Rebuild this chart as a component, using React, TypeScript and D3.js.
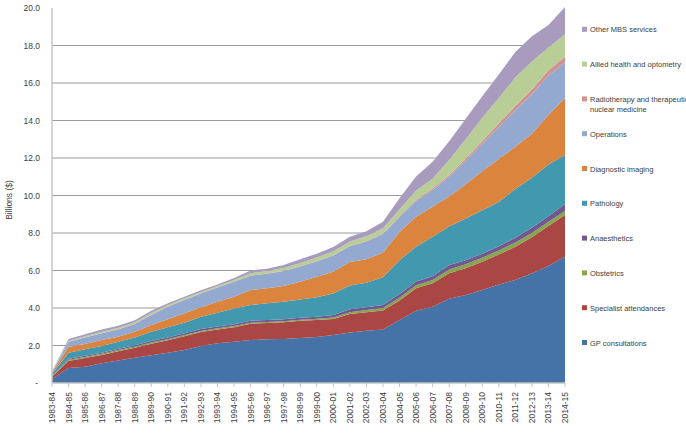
import React from "react";
import * as d3 from "d3";

const years = ["1983-84","1984-85","1985-86","1986-87","1987-88","1988-89","1989-90","1990-91","1991-92","1992-93","1993-94","1994-95","1995-96","1996-97","1997-98","1998-99","1999-00","2000-01","2001-02","2002-03","2003-04","2004-05","2005-06","2006-07","2007-08","2008-09","2009-10","2010-11","2011-12","2012-13","2013-14","2014-15"];

const gpConsultations = [0.22,0.80,0.87,1.05,1.20,1.35,1.48,1.62,1.76,1.97,2.12,2.20,2.29,2.33,2.35,2.40,2.45,2.56,2.70,2.79,2.86,3.36,3.86,4.07,4.50,4.70,4.96,5.25,5.50,5.85,6.24,6.74];
const specialistAttendances = [0.12,0.38,0.46,0.45,0.50,0.53,0.62,0.66,0.74,0.75,0.74,0.78,0.87,0.87,0.89,0.92,0.91,0.86,0.98,0.99,1.01,1.04,1.19,1.25,1.35,1.42,1.51,1.60,1.77,1.92,2.13,2.22];
const obstetrics = [0.02,0.06,0.06,0.06,0.06,0.06,0.06,0.06,0.06,0.06,0.06,0.06,0.06,0.06,0.06,0.06,0.07,0.08,0.10,0.12,0.13,0.15,0.17,0.18,0.20,0.21,0.21,0.22,0.23,0.23,0.23,0.21];
const anaesthetics = [0.02,0.06,0.06,0.06,0.07,0.07,0.08,0.09,0.10,0.10,0.10,0.10,0.10,0.10,0.10,0.10,0.11,0.13,0.15,0.14,0.16,0.20,0.20,0.20,0.25,0.22,0.22,0.23,0.25,0.28,0.30,0.38];
const pathology = [0.10,0.32,0.35,0.35,0.37,0.42,0.50,0.54,0.56,0.66,0.73,0.84,0.84,0.89,0.94,0.98,1.04,1.15,1.27,1.31,1.48,1.80,1.85,2.10,2.05,2.23,2.32,2.35,2.60,2.67,2.75,2.61];
const diagnosticImaging = [0.05,0.32,0.28,0.32,0.27,0.31,0.35,0.43,0.50,0.50,0.59,0.62,0.80,0.80,0.83,0.94,1.09,1.16,1.25,1.25,1.31,1.50,1.60,1.60,1.60,1.82,2.08,2.30,2.25,2.35,2.65,3.04];
const operations = [0.05,0.26,0.35,0.36,0.39,0.41,0.54,0.67,0.71,0.74,0.76,0.80,0.76,0.78,0.81,0.82,0.83,0.86,0.85,0.95,1.00,0.80,0.85,0.90,1.05,1.25,1.45,1.70,1.95,2.10,2.10,1.90];
const radiotherapy = [0.005,0.01,0.01,0.01,0.01,0.01,0.01,0.01,0.01,0.01,0.01,0.01,0.01,0.01,0.01,0.01,0.01,0.02,0.02,0.02,0.03,0.04,0.06,0.07,0.10,0.12,0.15,0.20,0.22,0.25,0.28,0.30];
const alliedHealth = [0.005,0.04,0.06,0.07,0.08,0.08,0.09,0.08,0.08,0.07,0.06,0.09,0.13,0.14,0.15,0.17,0.19,0.21,0.23,0.26,0.27,0.36,0.49,0.53,0.80,1.03,1.25,1.35,1.53,1.50,1.22,1.20];
const otherMbs = [0.03,0.10,0.10,0.12,0.10,0.11,0.12,0.09,0.08,0.09,0.08,0.10,0.14,0.12,0.16,0.20,0.20,0.22,0.25,0.27,0.35,0.60,0.75,0.90,1.00,1.10,1.15,1.25,1.35,1.35,1.20,1.45];

const seriesNames = ["GP consultations","Specialist attendances","Obstetrics","Anaesthetics","Pathology","Diagnostic imaging","Operations","Radiotherapy and therapeutic nuclear medicine","Allied health and optometry","Other MBS services"];
const seriesValues = [gpConsultations,specialistAttendances,obstetrics,anaesthetics,pathology,diagnosticImaging,operations,radiotherapy,alliedHealth,otherMbs];
const seriesColors = ["#4572A7","#AA4643","#89A54E","#71588F","#4198AF","#DB843D","#93A9CF","#D19392","#B9CD96","#A99BBD"];
const legendLines = [["GP consultations"],["Specialist attendances"],["Obstetrics"],["Anaesthetics"],["Pathology"],["Diagnostic imaging"],["Operations"],["Radiotherapy and therapeutic","nuclear medicine"],["Allied health and optometry"],["Other MBS services"]];
const yTicks = [0,2,4,6,8,10,12,14,16,18,20];

export default function App() {
  const W = 686, H = 440;
  const left = 52, right = 565, top = 8, bottom = 383;
  const x = d3.scalePoint<string>().domain(years).range([left, right]);
  const y = d3.scaleLinear().domain([0, 20]).range([bottom, top]);
  const rows = years.map((yr, i) => {
    const r: any = { year: yr };
    seriesNames.forEach((n, k) => { r[n] = seriesValues[k][i]; });
    return r;
  });
  const stacked = d3.stack<any>().keys(seriesNames)(rows);
  const area = d3.area<any>()
    .x((d) => x(d.data.year) as number)
    .y0((d) => y(d[0]))
    .y1((d) => y(d[1]));
  const font = "'Liberation Sans', Arial, sans-serif";
  const legendY = (k: number) => 343 - k * 34.8;
  return (
    <svg width={W} height={H} style={{ position: "absolute", left: 0, top: 0, background: "#fff" }}>
      {yTicks.filter((t) => t > 0 && t < 20).map((t) => (
        <line key={t} x1={left} x2={right} y1={y(t)} y2={y(t)} stroke="#9a9a9a" strokeWidth={1} />
      ))}
      {stacked.map((s, k) => (
        <path key={s.key} d={area(s) as string} fill={seriesColors[k]} />
      ))}
      <line x1={left} x2={left} y1={top} y2={bottom} stroke="#c4c4c4" strokeWidth={1.5} />
      <line x1={left} x2={right} y1={bottom} y2={bottom} stroke="#c4c4c4" strokeWidth={1.5} />
      {years.map((yr) => (
        <line key={yr} x1={x(yr)} x2={x(yr)} y1={bottom} y2={bottom + 4} stroke="#c4c4c4" strokeWidth={1} />
      ))}
      {yTicks.map((t) => (
        <text key={t} x={t === 0 ? 38 : 40} y={y(t) + 3} textAnchor="end" fontFamily={font} fontSize={8.5} fill="#404040">
          {t === 0 ? "-" : t.toFixed(1)}
        </text>
      ))}
      <text transform={`translate(12,200) rotate(-90)`} textAnchor="middle" fontFamily={font} fontSize={8.5} fill="#404040">Billions ($)</text>
      {years.map((yr) => (
        <text key={yr} transform={`translate(${(x(yr) as number) + 3},${bottom + 9}) rotate(-90)`} textAnchor="end" fontFamily={font} fontSize={8.5} fill="#404040">{yr}</text>
      ))}
      {seriesNames.map((n, k) => (
        <g key={n}>
          <rect x={582} y={legendY(k) - 3} width={5} height={5} fill={seriesColors[k]} />
          {legendLines[k].map((ln, j) => (
            <text key={j} x={590} y={legendY(k) + 2.5 + j * 10.5} fontFamily={font} fontSize={7.5} fill="#404040">{ln}</text>
          ))}
        </g>
      ))}
    </svg>
  );
}
